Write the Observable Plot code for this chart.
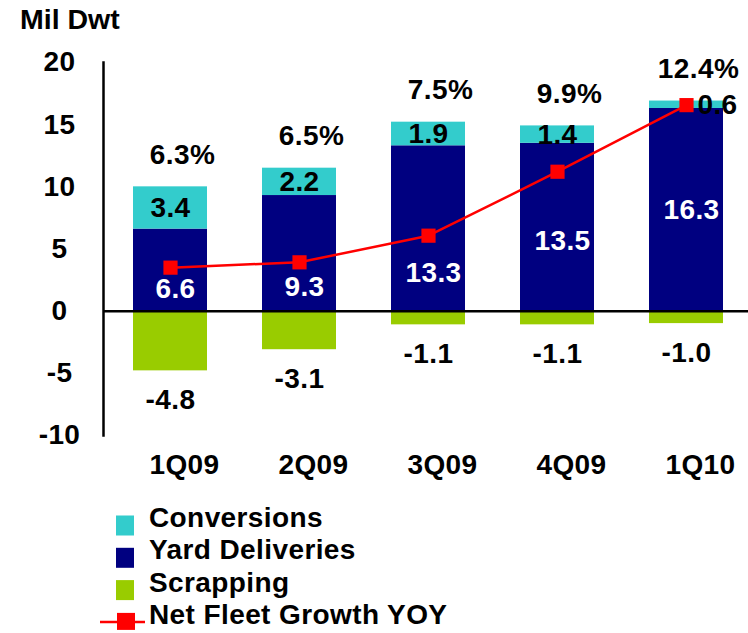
<!DOCTYPE html>
<html>
<head>
<meta charset="utf-8">
<script src="https://cdn.jsdelivr.net/npm/d3@7"></script>
<script src="https://cdn.jsdelivr.net/npm/@observablehq/plot@0.6"></script>
<style>
  body { margin: 0; background: #fff; }
  #wrap { position: relative; width: 748px; height: 633px; font-family: Arial, "Liberation Sans", sans-serif; font-weight: bold; color: #000; }
  #chart { position: absolute; left: 0; top: 0; }
  #title { position: absolute; left: 20px; top: 5px; font-size: 28.5px; line-height: 28px; white-space: nowrap; }
  #legend { position: absolute; left: 0; top: 500px; }
</style>
</head>
<body>
<div id="wrap">
  <div id="chart"></div>
  <div id="title">Mil Dwt</div>
  <div id="legend"></div>
</div>
<script>
// ---- data ----
const quarters = ["1Q09", "2Q09", "3Q09", "4Q09", "1Q10"];
const conversions = [3.4, 2.2, 1.9, 1.4, 0.6];
const yardDeliveries = [6.6, 9.3, 13.3, 13.5, 16.3];
const scrapping = [-4.8, -3.1, -1.1, -1.1, -1.0];
const netFleetGrowthPct = [6.3, 6.5, 7.5, 9.9, 12.4];
const yTickLabels = [-10, -5, 0, 5, 10, 15, 20];
const barSeries = ["Conversions", "Yard Deliveries", "Scrapping"];
const barColors = ["#33CCCC", "#000080", "#99CC00"];
const lineSeries = "Net Fleet Growth YOY";
const lineColor = "#FF0000";

// primary axis (Mil Dwt) and hidden secondary axis (YOY %)
const leftDomain = [-10, 20];
const rightDomain = [0, 14];
const toLeft = p => leftDomain[0] + (p - rightDomain[0]) * (leftDomain[1] - leftDomain[0]) / (rightDomain[1] - rightDomain[0]);

// ---- tables built from the arrays ----
const bars = [];
quarters.forEach((q, i) => {
  bars.push({quarter: q, series: "Yard Deliveries", value: yardDeliveries[i]});
  bars.push({quarter: q, series: "Conversions", value: conversions[i]});
  bars.push({quarter: q, series: "Scrapping", value: scrapping[i]});
});
const rows = quarters.map((q, i) => ({
  quarter: q,
  conv: conversions[i],
  yard: yardDeliveries[i],
  scrap: scrapping[i],
  pct: netFleetGrowthPct[i],
  lineY: toLeft(netFleetGrowthPct[i]),
  total: yardDeliveries[i] + conversions[i]
}));
const smallSeg = 1;

const FONT = 'Arial, "Liberation Sans", sans-serif';

const chart = Plot.plot({
  width: 748,
  height: 500,
  marginTop: 62,
  marginBottom: 65,
  marginLeft: 103,
  marginRight: 0,
  style: {fontFamily: FONT, fontSize: "28px", fontWeight: "bold", letterSpacing: "0.4px", background: "#fff", overflow: "visible", color: "#000"},
  x: {type: "band", domain: quarters, range: [106, 750], paddingInner: 0.4286, paddingOuter: 0.2, axis: null},
  y: {domain: leftDomain, axis: null},
  color: {domain: barSeries, range: barColors},
  marks: [
    Plot.barY(bars, {x: "quarter", y: "value", fill: "series"}),
    Plot.ruleY([0], {stroke: "#000", strokeWidth: 2.5}),
    Plot.frame({anchor: "left", stroke: "#000", strokeWidth: 2.5}),
    Plot.line(rows, {x: "quarter", y: "lineY", stroke: lineColor, strokeWidth: 2.5}),
    Plot.dot(rows, {x: "quarter", y: "lineY", symbol: "square", r: 8, fill: lineColor, stroke: "none"}),
    // y tick labels (centered)
    Plot.text(yTickLabels, {y: d => d, text: d => String(d), frameAnchor: "left", dx: -44, textAnchor: "middle", fill: "#000"}),
    // category labels
    Plot.text(quarters, {x: d => d, text: d => d, frameAnchor: "bottom", dy: 38, dx: 14, fill: "#000"}),
    // YOY % labels above the stacks
    Plot.text(rows, {x: "quarter", y: "total", text: d => d.pct.toFixed(1) + "%", dy: -32, dx: 12, fill: "#000"}),
    // conversions labels
    Plot.text(rows.filter(d => d.conv >= smallSeg), {x: "quarter", y: d => d.yard + d.conv / 2, text: d => d.conv.toFixed(1), fill: "#000"}),
    Plot.text(rows.filter(d => d.conv < smallSeg), {x: "quarter", y: d => d.yard + d.conv / 2, text: d => d.conv.toFixed(1), dx: 31, fill: "#000"}),
    // yard deliveries labels (between axis and the line)
    Plot.text(rows, {x: "quarter", y: d => Math.min(d.lineY, d.yard) / 2, text: d => d.yard.toFixed(1), dx: 5, fill: "#fff"}),
    // scrapping labels below bars
    Plot.text(rows, {x: "quarter", y: "scrap", text: d => d.scrap.toFixed(1), dy: 29, fill: "#000"})
  ]
});
document.getElementById("chart").appendChild(chart);

// ---- legend ----
const lg = d3.select("#legend").append("svg")
  .attr("width", 748).attr("height", 133)
  .style("font-family", FONT).style("font-size", "28px").style("font-weight", "bold").style("letter-spacing", "0.4px");
const legendItems = barSeries.map((s, i) => ({name: s, color: barColors[i], kind: "box"}))
  .concat([{name: lineSeries, color: lineColor, kind: "line"}]);
legendItems.forEach((it, i) => {
  const base = 27 + i * 32.3;
  if (it.kind === "box") {
    lg.append("rect").attr("x", 116).attr("y", base - 11.5).attr("width", 18).attr("height", 20).attr("fill", it.color);
  } else {
    lg.append("line").attr("x1", 100).attr("x2", 145).attr("y1", base - 2).attr("y2", base - 2).attr("stroke", it.color).attr("stroke-width", 2.5);
    lg.append("rect").attr("x", 117).attr("y", base - 11).attr("width", 18).attr("height", 17).attr("fill", it.color);
  }
  lg.append("text").attr("x", 149).attr("y", base).attr("fill", "#000").text(it.name);
});
</script>
</body>
</html>
